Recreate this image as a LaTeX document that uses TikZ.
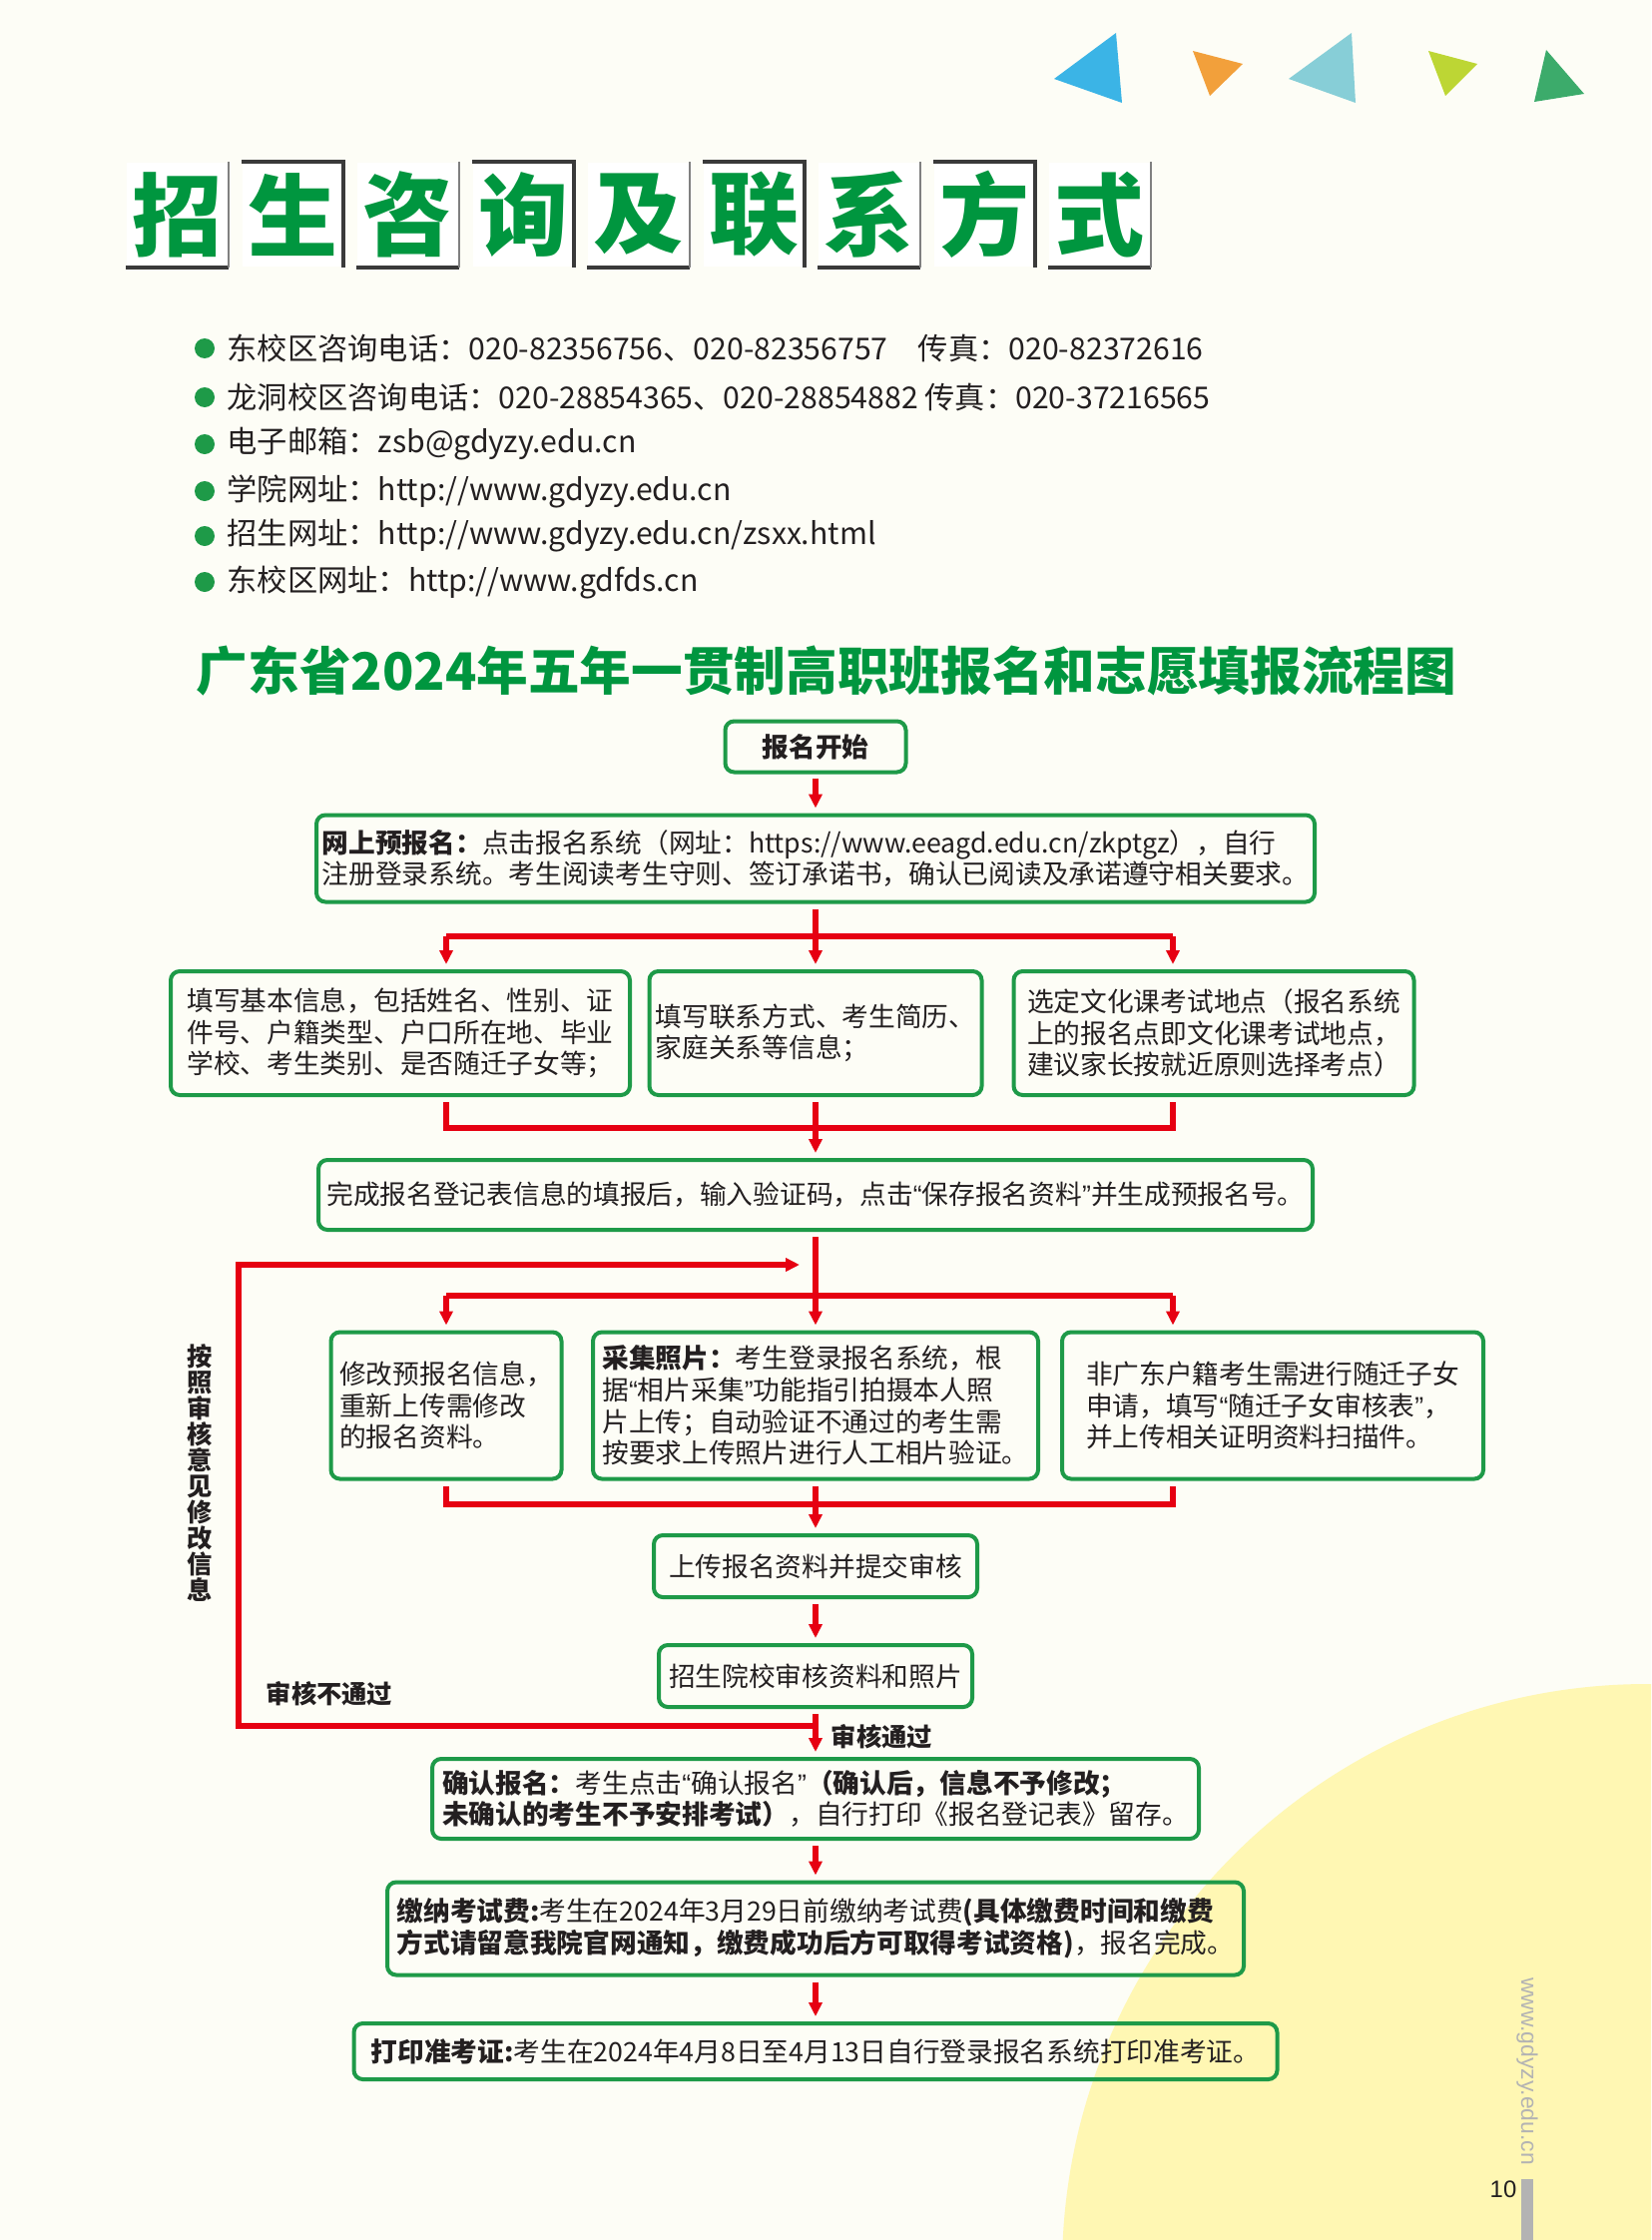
\documentclass[tikz,border=0pt]{standalone}
\usepackage{fontspec}
\setmainfont{Noto Sans CJK SC}
\newfontfamily\heavyfont{Noto Sans CJK SC Black}
\newfontfamily\latinfont{Liberation Sans}
\usepackage{xcolor}
\usepackage{tikz}
\usetikzlibrary{arrows.meta}
\definecolor{pagebg}{HTML}{FDFDF6}
\definecolor{sunc}{HTML}{FFF7B3}
\definecolor{titlec}{HTML}{00963F}
\definecolor{boxc}{HTML}{1E9A48}
\definecolor{arrc}{HTML}{E60012}
\definecolor{inkc}{HTML}{231F20}
\definecolor{shadc}{HTML}{3A3A3A}
\definecolor{triA}{HTML}{3BB4E6}
\definecolor{triB}{HTML}{F2A03B}
\definecolor{triC}{HTML}{87CED7}
\definecolor{triD}{HTML}{BDD634}
\definecolor{triE}{HTML}{3CAB6B}
\definecolor{pgc}{HTML}{B3B3B3}
\newcommand{\lqm}{{\latinfont“}}
\newcommand{\rqm}{{\latinfont”}}
\tikzset{
  ln/.style={arrc,line width=0.55mm},
  ar/.style={-{Triangle[length=1.4mm,width=1.3mm]},arrc,line width=0.55mm,shorten >=0.5mm},
  box/.style={draw=boxc,line width=0.4mm,rounded corners=0.9mm,align=left,text=inkc,inner sep=0pt,font=\fontsize{7.6pt}{9pt}\selectfont},
  tbox/.style={fill=white,minimum width=10.1mm,minimum height=10.4mm,inner sep=0pt,text=titlec,font=\heavyfont\fontsize{25.6pt}{26pt}\selectfont},
  shd/.style={shadc,line width=0.4mm},
  info/.style={anchor=west,text=inkc,inner sep=0pt,font=\fontsize{8.6pt}{9pt}\selectfont},
  lbl/.style={text=inkc,inner sep=0pt,font=\bfseries\fontsize{7.2pt}{7.4pt}\selectfont}
}

\begin{document}
\begin{tikzpicture}[x=0.1mm,y=-0.1mm]
\useasboundingbox (0,0) rectangle (1654,2244);
\fill[pagebg] (0,0) rectangle (1654,2244);
\begin{scope}
\clip (0,0) rectangle (1654,2244);
\fill[sunc] (1650,2273) circle (58.6mm);
\end{scope}
% corner triangles
\fill[triA] (1118,33) -- (1056,79) -- (1124,103) -- cycle;
\fill[triB] (1195,51) -- (1245,64) -- (1212,96) -- cycle;
\fill[triC] (1354,33) -- (1291,79) -- (1358,103) -- cycle;
\fill[triD] (1431,51) -- (1480,64) -- (1448,96) -- cycle;
\fill[triE] (1549,50) -- (1587,94) -- (1537,102) -- cycle;
% page title
\foreach \ch [count=\i from 0] in {招,生,咨,询,及,联,系,方,式}{
  \node[tbox] (t\i) at ({177.5+115.5*\i},215) {\ch};
  \ifodd\i
    \draw[shd] (t\i.north west) -- (t\i.north east) -- (t\i.south east);
  \else
    \draw[shd] (t\i.south west) -- (t\i.south east);
    \draw[gray,line width=0.2mm] (t\i.south east) -- (t\i.north east);
  \fi
}
% contacts
\foreach \y in {349,398,445,492,537,583}{\fill[boxc] (205,\y) circle (1mm);}
\node[info] (tel1) at (227,349) {东校区咨询电话：020-82356756、020-82356757\quad 传真：020-82372616};
\node[info] (tel2) at (227,398) {龙洞校区咨询电话：020-28854365、020-28854882 传真：020-37216565};
\node[info] (mail) at (227,445) {电子邮箱：zsb@gdyzy.edu.cn};
\node[info] (web1) at (227,492) {学院网址：http://www.gdyzy.edu.cn};
\node[info] (web2) at (227,537) {招生网址：http://www.gdyzy.edu.cn/zsxx.html};
\node[info] (web3) at (227,583) {东校区网址：http://www.gdfds.cn};
\node[text=titlec,inner sep=0pt,font=\heavyfont\fontsize{14.7pt}{15pt}\selectfont] (flowtitle) at (828,672) {广东省2024年五年一贯制高职班报名和志愿填报流程图};
% flow boxes
\node[box,minimum width=18.1mm,minimum height=5.1mm] (start) at (817,748) {\textbf{报名开始}};
\node[box,minimum width=100mm,minimum height=8.7mm] (online) at (817,860) {\textbf{网上预报名：}点击报名系统（网址：https://www.eeagd.edu.cn/zkptgz），自行\\注册登录系统。考生阅读考生守则、签订承诺书，确认已阅读及承诺遵守相关要求。};
\node[box,minimum width=46mm,minimum height=12.4mm] (basic) at (401,1035) {填写基本信息，包括姓名、性别、证\\件号、户籍类型、户口所在地、毕业\\学校、考生类别、是否随迁子女等；};
\node[box,minimum width=33.3mm,minimum height=12.4mm] (contact) at (817,1035) {填写联系方式、考生简历、\\家庭关系等信息；};
\node[box,minimum width=40.1mm,minimum height=12.4mm] (site) at (1216,1035) {选定文化课考试地点（报名系统\\上的报名点即文化课考试地点，\\建议家长按就近原则选择考点）};
\node[box,minimum width=99.6mm,minimum height=7mm] (save) at (817,1197) {完成报名登记表信息的填报后，输入验证码，点击\lqm 保存报名资料\rqm 并生成预报名号。};
\node[box,minimum width=23.1mm,minimum height=14.7mm] (modify) at (447,1408) {修改预报名信息，\\重新上传需修改\\的报名资料。};
\node[box,minimum width=44.6mm,minimum height=14.7mm] (photo) at (817,1408) {\textbf{采集照片：}考生登录报名系统，根\\据\lqm 相片采集\rqm 功能指引拍摄本人照\\片上传；自动验证不通过的考生需\\按要求上传照片进行人工相片验证。};
\node[box,minimum width=42.2mm,minimum height=14.7mm] (migrant) at (1275,1408) {非广东户籍考生需进行随迁子女\\申请，填写\lqm 随迁子女审核表\rqm ，\\并上传相关证明资料扫描件。};
\node[box,minimum width=32.4mm,minimum height=6.2mm] (upload) at (817,1569) {上传报名资料并提交审核};
\node[box,minimum width=31.4mm,minimum height=6.2mm] (review) at (817,1679) {招生院校审核资料和照片};
\node[box,minimum width=76.8mm,minimum height=8mm] (confirm) at (817,1802) {\textbf{确认报名：}考生点击\lqm 确认报名\rqm\textbf{（确认后，信息不予修改；}\\\textbf{未确认的考生不予安排考试）}，自行打印《报名登记表》留存。};
\node[box,minimum width=85.8mm,minimum height=9.3mm] (fee) at (817,1932) {\textbf{缴纳考试费:}考生在2024年3月29日前缴纳考试费\textbf{(具体缴费时间和缴费}\\\textbf{方式请留意我院官网通知，缴费成功后方可取得考试资格)}，报名完成。};
\node[box,minimum width=92.5mm,minimum height=5.6mm] (ticket) at (817,2055) {\textbf{打印准考证:}考生在2024年4月8日至4月13日自行登录报名系统打印准考证。};
% labels
\node[lbl,align=center] (redo) at (200,1476) {按\\照\\审\\核\\意\\见\\修\\改\\信\\息};
\node[lbl,anchor=west] (fail) at (266,1697) {审核不通过};
\node[lbl,anchor=west] (pass) at (832,1740) {审核通过};
% branch points
\coordinate (sp1) at (817,938); \coordinate (sp1L) at (447,938); \coordinate (sp1R) at (1175,938);
\coordinate (mg1L) at (447,1130); \coordinate (mg1R) at (1175,1130);
\coordinate (sp2) at (817,1298); \coordinate (sp2L) at (447,1298); \coordinate (sp2R) at (1175,1298);
\coordinate (mg2L) at (447,1507); \coordinate (mg2R) at (1175,1507);
\coordinate (back) at (817,1729); \coordinate (corner) at (239,1267); \coordinate (loopin) at (801,1267);
% connectors
\draw[ar,shorten <=0.4mm] (start.south) -- (online.north);
\draw[ln,shorten <=0.5mm] (online.south) -- (sp1);
\draw[ln] (sp1L) -- (sp1R);
\draw[ar] (sp1L) -- (sp1L |- basic.north);
\draw[ar] (sp1) -- (contact.north);
\draw[ar] (sp1R) -- (sp1R |- site.north);
\draw[ln,shorten <=0.5mm,shorten >=0.5mm] (mg1L |- basic.south) -- (mg1L) -- (mg1R) -- (mg1R |- site.south);
\draw[ar,shorten <=0.5mm] (contact.south) -- (save.north);
\draw[ln,shorten <=0.5mm] (save.south) -- (sp2);
\draw[ln] (sp2L) -- (sp2R);
\draw[ar] (sp2L) -- (sp2L |- modify.north);
\draw[ar] (sp2) -- (photo.north);
\draw[ar] (sp2R) -- (sp2R |- migrant.north);
\draw[ln,shorten <=0.5mm,shorten >=0.5mm] (mg2L |- modify.south) -- (mg2L) -- (mg2R) -- (mg2R |- migrant.south);
\draw[ar,shorten <=0.5mm] (photo.south) -- (upload.north);
\draw[ar,shorten <=0.5mm] (upload.south) -- (review.north);
\draw[ar,shorten <=0.5mm] (review.south) -- (confirm.north);
\draw[ar,shorten >=0pt] (back) -| (corner) -- (loopin);
\draw[ar,shorten <=0.5mm] (confirm.south) -- (fee.north);
\draw[ar,shorten <=0.5mm] (fee.south) -- (ticket.north);
% page mark
\node[rotate=-90,text=pgc,inner sep=0pt,font=\latinfont\fontsize{6.5pt}{7pt}\selectfont] (url) at (1530,2075) {www.gdyzy.edu.cn};
\node[text=inkc,inner sep=0pt,font=\latinfont\fontsize{6.8pt}{7pt}\selectfont] (pnum) at (1506,2193) {10};
\fill[pgc] (1524,2183) rectangle (1536,2244);
\end{tikzpicture}
\end{document}
